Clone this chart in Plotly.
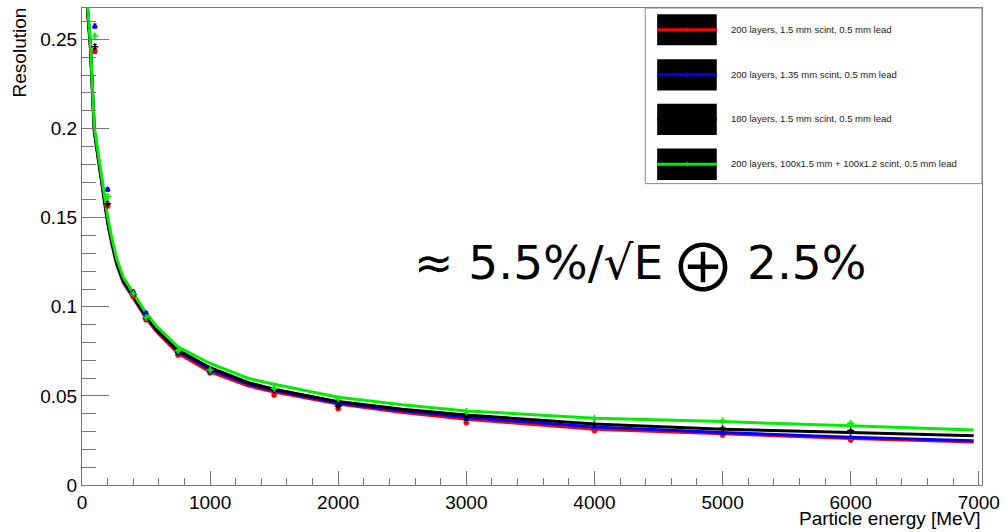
import plotly.graph_objects as go

# ---------------- data ----------------
series_names = [
    "200 layers, 1.5 mm scint, 0.5 mm lead",
    "200 layers, 1.35 mm scint, 0.5 mm lead",
    "180 layers, 1.5 mm scint, 0.5 mm lead",
    "200 layers, 100x1.5 mm + 100x1.2 scint, 0.5 mm lead",
]
series_colors = ["#ff0000", "#0000ff", "#000000", "#00ee00"]

energy_pts = [100, 200, 400, 500, 750, 1000, 1500, 2000, 3000, 4000, 5000, 6000]
res_red = [0.2434, 0.1566, 0.1059, 0.0928, 0.0729, 0.0630, 0.0505, 0.0429, 0.0350, 0.0305, 0.0281, 0.0253]
res_blue = [0.2575, 0.1658, 0.1085, 0.0966, 0.0740, 0.0634, 0.0530, 0.0453, 0.0369, 0.0324, 0.0291, 0.0268]
res_black = [0.2460, 0.1579, 0.1070, 0.0936, 0.0746, 0.0640, 0.0533, 0.0442, 0.0380, 0.0341, 0.0319, 0.0305]
res_green = [0.2520, 0.1619, 0.1074, 0.0940, 0.0753, 0.0645, 0.0543, 0.0484, 0.0412, 0.0375, 0.0361, 0.0347]
res_err = [0.0012, 0.0010, 0.0008, 0.0008, 0.0007, 0.0006, 0.0006, 0.0006, 0.0005, 0.0005, 0.0005, 0.0005]

curve_e = [42, 65, 96, 130, 181, 200, 233, 271, 323, 401, 491, 582, 750, 1000, 1300, 1500, 2000, 2500,
           3000, 4000, 5000, 6000, 6960]
fit_red = [0.267, 0.246, 0.198, 0.180, 0.156, 0.147, 0.135, 0.1235, 0.1133, 0.1048, 0.0945, 0.0860, 0.0738,
           0.0635, 0.0555, 0.0522, 0.0455, 0.0407, 0.0369, 0.0313, 0.0287, 0.0261, 0.0242]
fit_blue = [0.268, 0.247, 0.199, 0.181, 0.157, 0.148, 0.136, 0.1245, 0.1143, 0.1055, 0.0953, 0.0868, 0.0750,
            0.0648, 0.0565, 0.0531, 0.0460, 0.0416, 0.0380, 0.0325, 0.0294, 0.0268, 0.0249]
fit_black = [0.268, 0.247, 0.199, 0.182, 0.1575, 0.1485, 0.1365, 0.125, 0.1148, 0.1060, 0.0958, 0.0874, 0.0757,
             0.0658, 0.0574, 0.0537, 0.0468, 0.0425, 0.0393, 0.0342, 0.0313, 0.0294, 0.0276]
fit_green = [0.270, 0.249, 0.201, 0.184, 0.1596, 0.1505, 0.1385, 0.127, 0.1165, 0.1074, 0.0975, 0.0890, 0.0775,
             0.0682, 0.0598, 0.0565, 0.0493, 0.0450, 0.0416, 0.0375, 0.0356, 0.0332, 0.0309]

x_range = [0, 7025]
y_range = [0, 0.2677]
formula_parts = ["≈ 5.5%/√E", "⊕", "2.5%"]

# ---------------- figure ----------------
W, H = 1007, 532
PL, PT, PW, PH = 82, 7, 906, 478


def px(x):
    return (x - PL) / PW


def py(y):
    return (PT + PH - y) / PH


fits = [fit_red, fit_blue, fit_black, fit_green]
pts = [res_red, res_blue, res_black, res_green]
symbols = ["asterisk-open", "triangle-up", "cross-thin-open", "cross-thin-open"]
msizes = [5, 4, 5, 5]

fig = go.Figure()
for name, col, fy in zip(series_names, series_colors, fits):
    fig.add_trace(go.Scatter(x=curve_e, y=fy, mode="lines", name=name,
                             line=dict(color=col, width=3), showlegend=False))
for name, col, ry, sym, ms in zip(series_names, series_colors, pts, symbols, msizes):
    fig.add_trace(go.Scatter(x=energy_pts, y=ry, mode="markers", name=name,
                             marker=dict(color=col, symbol=sym, size=ms, line=dict(color=col, width=1.5)),
                             error_y=dict(type="data", array=res_err, color=col, thickness=1, width=2),
                             showlegend=False))

axis_col = "#777777"
tickfont = dict(family="Liberation Sans, Arial, sans-serif", size=19, color="#000000")
fig.update_xaxes(range=x_range, showline=True, linecolor=axis_col, linewidth=1, mirror=True,
                 ticks="inside", ticklen=14, tickcolor=axis_col, tickwidth=1, tick0=0, dtick=1000,
                 minor=dict(ticks="inside", dtick=200, ticklen=7, tickcolor=axis_col, tickwidth=1),
                 showgrid=False, zeroline=False, tickfont=tickfont)
fig.update_yaxes(range=y_range, showline=True, linecolor=axis_col, linewidth=1, mirror=True,
                 ticks="inside", ticklen=27, tickcolor=axis_col, tickwidth=1, tick0=0, dtick=0.05,
                 minor=dict(ticks="inside", dtick=0.01, ticklen=14, tickcolor=axis_col, tickwidth=1),
                 showgrid=False, zeroline=False, tickfont=tickfont, ticklabelstandoff=0)

shapes = []
annotations = []
# legend box
shapes.append(dict(type="rect", xref="paper", yref="paper", x0=px(649), x1=px(988), y0=py(183), y1=py(7),
                   line=dict(color="#888888", width=1), fillcolor="white", layer="above"))
rows = [(13.3, 44.3), (58.3, 89.7), (103, 134.3), (147.7, 179.3)]
for (t, b), col, name in zip(rows, series_colors, series_names):
    shapes.append(dict(type="rect", xref="paper", yref="paper", x0=px(661), x1=px(721), y0=py(b), y1=py(t),
                       line=dict(width=0), fillcolor="black", layer="above"))
    cy = (t + b) / 2
    shapes.append(dict(type="line", xref="paper", yref="paper", x0=px(661), x1=px(721), y0=py(cy), y1=py(cy),
                       line=dict(color=col, width=3), layer="above"))
    shapes.append(dict(type="line", xref="paper", yref="paper", x0=px(691), x1=px(691), y0=py(cy - 2.5), y1=py(cy + 2.5),
                       line=dict(color=col, width=1), layer="above"))
    annotations.append(dict(text=name, xref="paper", yref="paper", x=px(733), y=py(cy - 0.5),
                            xanchor="left", yanchor="middle", showarrow=False,
                            font=dict(family="Liberation Sans, Arial, sans-serif", size=9.5, color="#222222")))

big = dict(family="DejaVu Sans", size=47, color="#000000")
annotations.append(dict(text=formula_parts[0], xref="paper", yref="paper", x=px(414), y=py(262),
                        xanchor="left", yanchor="middle", showarrow=False, font=big))
annotations.append(dict(text=formula_parts[1], xref="paper", yref="paper", x=px(707), y=py(263),
                        xanchor="center", yanchor="middle", showarrow=False,
                        font=dict(family="Noto Sans CJK SC", size=66, color="#000000")))
annotations.append(dict(text=formula_parts[2], xref="paper", yref="paper", x=px(873), y=py(262),
                        xanchor="right", yanchor="middle", showarrow=False, font=big))
annotations.append(dict(text="Particle energy [MeV]", xref="paper", yref="paper", x=px(989), y=py(519),
                        xanchor="right", yanchor="middle", showarrow=False,
                        font=dict(family="Liberation Sans, Arial, sans-serif", size=19, color="#000000")))
annotations.append(dict(text="Resolution", xref="paper", yref="paper", x=px(19), y=py(4),
                        xanchor="center", yanchor="top", textangle=-90, showarrow=False,
                        font=dict(family="Liberation Sans, Arial, sans-serif", size=19, color="#000000")))

fig.update_layout(width=W, height=H, margin=dict(l=PL, r=W - PL - PW, t=PT, b=H - PT - PH),
                  paper_bgcolor="white", plot_bgcolor="white", showlegend=False,
                  shapes=shapes, annotations=annotations)

fig.write_html("out.html")
